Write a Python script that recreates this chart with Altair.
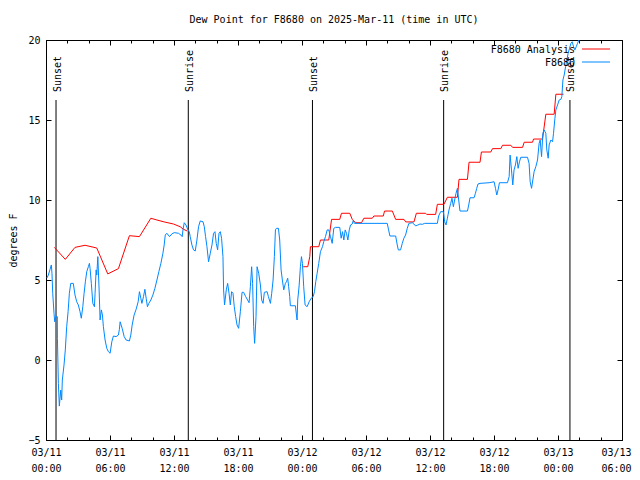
import altair as alt
import pandas as pd

TITLE = "Dew Point for F8680 on 2025-Mar-11 (time in UTC)"
FONT = "DejaVu Sans Mono"
RED = "#ff0000"
BLUE = "#0088ff"

# hours since 2025-03-11 00:00 UTC
red_hours_a = [0.78, 1.81, 2.72, 3.66, 4.76, 5.79, 6.79, 7.82, 8.76, 9.83, 10.40, 11.08, 11.95, 12.58, 12.89, 13.24]
red_vals_a = [7.04, 6.29, 7.04, 7.17, 7.00, 5.38, 5.71, 7.77, 7.71, 8.86, 8.75, 8.63, 8.50, 8.33, 8.17, 8.06]

red_hours_b = [24.11, 24.54, 24.73, 24.79, 25.57, 25.73, 26.51, 26.77, 27.54, 27.70, 28.48, 28.71, 29.02, 29.58,
               29.80, 30.59, 30.74, 31.62, 31.74, 32.47, 32.78, 33.56, 33.72, 34.50, 34.72, 35.59, 35.69, 36.53,
               36.69, 37.31, 37.63, 38.57, 38.72, 39.51, 39.66, 40.69, 40.82, 41.70, 41.86, 42.64, 42.80, 43.58,
               43.74, 44.68, 44.83, 45.61, 45.71, 46.55, 46.86, 47.64, 47.80, 48.52]
red_vals_b = [5.83, 5.83, 6.46, 7.08, 7.08, 7.50, 7.50, 8.79, 8.79, 9.17, 9.17, 8.79, 8.58, 8.58,
              8.86, 8.86, 9.00, 9.00, 9.31, 9.31, 8.79, 8.79, 8.63, 8.63, 9.17, 9.17, 9.10, 9.10,
              9.73, 9.73, 10.17, 10.17, 11.29, 11.29, 12.36, 12.36, 13.00, 13.00, 13.21, 13.21, 13.42, 13.42,
              13.29, 13.29, 13.61, 13.61, 13.81, 13.81, 15.36, 15.36, 16.61, 16.61]

blue_hours = [0.09, 0.22, 0.38, 0.50, 0.56, 0.63, 0.75, 0.82, 0.94, 1.06, 1.07, 1.16, 1.25, 1.38, 1.47, 1.53,
              1.69, 1.81, 1.94, 2.07, 2.19, 2.32, 2.56, 2.72, 2.88, 3.03, 3.19, 3.31, 3.45, 3.57, 3.69, 3.82,
              3.97, 4.07, 4.13, 4.25, 4.39, 4.54, 4.60, 4.70, 4.76, 4.86, 4.98, 5.07, 5.19, 5.29, 5.38, 5.54,
              5.70, 5.85, 6.01, 6.17, 6.32, 6.57, 6.79, 6.88, 6.95, 7.14, 7.33, 7.51, 7.82, 7.95, 8.08, 8.26,
              8.45, 8.64, 8.76, 8.89, 8.99, 9.14, 9.27, 9.39, 9.51, 9.64, 9.83, 10.02, 10.21, 10.40, 10.58,
              10.77, 10.96, 11.08, 11.18, 11.33, 11.58, 11.80, 12.02, 12.42, 12.65, 12.77, 12.84, 12.96, 13.12,
              13.31, 13.43, 13.52, 13.68, 13.83, 13.99, 14.15, 14.30, 14.46, 14.72, 14.84, 14.96, 15.09, 15.24,
              15.40, 15.56, 15.71, 15.84, 15.96, 16.09, 16.22, 16.34, 16.46, 16.59, 16.65, 16.74, 16.90, 17.03,
              17.16, 17.28, 17.40, 17.53, 17.65, 17.78, 17.91, 18.06, 18.22, 18.38, 18.53, 18.72, 18.90, 19.04,
              19.16, 19.28, 19.37, 19.47, 19.56, 19.69, 19.79, 19.94, 20.10, 20.22, 20.35, 20.47, 20.73, 20.85,
              21.04, 21.16, 21.29, 21.41, 21.51, 21.60, 21.79, 21.91, 22.04, 22.16, 22.29, 22.44, 22.54, 22.66,
              22.75, 22.85, 22.91, 23.38, 23.48, 23.54, 23.60, 23.73, 23.85, 23.95, 24.04, 24.16, 24.29, 24.48,
              24.67, 24.86, 25.05, 25.17, 25.29, 25.42, 25.57, 25.73, 25.92, 26.04, 26.20, 26.36, 26.51, 26.67,
              26.83, 26.98, 27.14, 27.54, 27.67, 27.80, 27.92, 28.05, 28.17, 28.30, 28.43, 28.55, 28.71, 28.80,
              28.92, 31.99, 32.12, 32.24, 32.78, 32.93, 33.03, 33.24, 33.40, 33.55, 33.71, 33.87, 34.02, 34.34,
              34.49, 34.65, 34.81, 35.06, 35.28, 35.50, 36.69, 36.81, 37.00, 37.25, 37.38, 37.50, 37.63, 37.78,
              37.94, 38.06, 38.19, 38.31, 38.44, 38.57, 38.69, 38.81, 39.51, 39.63, 39.75, 40.13, 40.26, 40.38,
              40.50, 40.69, 41.54, 42.01, 42.14, 42.26, 42.38, 42.51, 43.26, 43.42, 43.51, 43.64, 43.76, 43.88,
              44.01, 44.14, 44.26, 44.39, 44.51, 45.14, 45.29, 45.39, 45.52, 45.64, 45.76, 45.92, 46.08, 46.23,
              46.33, 46.46, 46.58, 46.70, 46.86, 46.95, 47.08, 47.17, 47.33, 47.49, 47.58, 47.71, 47.80, 47.96,
              48.11, 48.27, 48.36, 48.46, 48.58, 48.71, 48.83, 48.95, 49.08, 49.21, 49.33, 49.46, 49.58, 49.71,
              49.83, 49.96, 50.06]
blue_vals = [5.13, 5.31, 5.67, 5.94, 5.42, 4.17, 2.92, 2.39, 2.71, 2.71, 1.36, -1.46, -2.88, -1.88, -2.50, -1.25,
             -0.31, 0.63, 2.08, 3.02, 4.17, 4.79, 4.79, 4.06, 3.64, 3.44, 3.02, 2.61, 3.33, 4.17, 4.89, 5.52,
             5.83, 6.04, 5.73, 4.79, 3.54, 3.33, 4.17, 5.63, 5.31, 6.46, 4.38, 2.50, 3.13, 2.81, 2.08, 1.25,
             0.73, 0.52, 0.42, 1.14, 1.50, 1.46, 1.56, 1.92, 2.39, 1.98, 1.46, 1.25, 1.19, 1.56, 2.19, 2.81,
             3.17, 3.64, 4.27, 3.86, 3.54, 3.96, 4.42, 3.86, 3.33, 3.54, 3.75, 4.06, 4.48, 5.00, 5.52,
             6.04, 6.67, 7.19, 7.81, 7.92, 7.71, 7.88, 7.96, 7.92, 7.81, 7.71, 8.13, 8.58, 8.44,
             8.13, 8.02, 7.71, 7.19, 6.88, 6.81, 7.50, 8.33, 8.69, 8.64, 8.33, 7.71, 7.08, 6.14,
             6.67, 7.19, 7.92, 8.02, 7.29, 6.88, 7.92, 8.02, 7.61, 6.46, 4.38, 3.44, 4.38, 4.79,
             4.17, 3.44, 4.27, 4.17, 3.33, 2.71, 2.19, 1.98, 3.02, 4.23, 4.23, 3.96, 3.75, 3.58,
             4.58, 5.83, 4.79, 2.08, 1.04, 2.71, 5.83, 5.42, 4.69, 3.75, 3.54, 4.23, 4.27, 3.96,
             3.54, 4.17, 5.00, 6.46, 8.13, 8.23, 8.23, 7.50, 5.63, 5.00, 4.38, 4.79, 4.89, 5.11,
             4.58, 3.96, 3.39, 3.39, 2.81, 2.50, 3.75, 4.63, 5.83, 6.46, 6.04, 4.58, 3.44, 3.33,
             3.64, 3.86, 3.96, 4.27, 4.89, 5.42, 6.04, 6.77, 7.08, 7.39, 7.71, 8.13, 8.13, 7.71,
             7.29, 8.23, 8.29, 8.29, 7.61, 8.02, 7.50, 8.13, 7.92, 7.50, 8.13, 8.44, 8.50, 8.71,
             8.54, 8.54, 8.13, 7.75, 7.75, 7.19, 6.88, 6.88, 7.29, 7.61, 7.81, 8.23, 8.54, 8.58,
             8.50, 8.38, 8.42, 8.50, 8.48, 8.54, 8.54, 9.00, 9.27, 9.27, 8.63, 8.44, 8.86, 9.38,
             9.79, 10.11, 9.58, 10.00, 10.42, 10.73, 10.00, 9.31, 9.31, 9.69, 10.14, 10.14, 10.42, 10.73,
             11.00, 11.04, 11.08, 11.14, 10.73, 10.31, 10.63, 11.08, 11.08, 11.46, 12.81, 11.88, 10.94, 11.88,
             12.19, 12.71, 11.98, 12.39, 12.67, 12.67, 12.29, 11.14, 10.73, 11.25, 11.77, 12.08, 12.50, 13.54,
             13.75, 12.71, 14.17, 14.38, 14.17, 13.13, 12.61, 13.44, 13.75, 13.64, 14.17, 15.11, 15.63, 15.94,
             16.25, 16.29, 16.46, 17.50, 17.81, 18.33, 18.75, 19.17, 19.48, 19.79, 19.89, 19.58, 19.38, 19.58,
             19.79, 20.00, 20.25]

event_names = ["Sunset", "Sunrise", "Sunset", "Sunrise", "Sunset"]
event_hours = [0.94, 13.34, 24.98, 37.28, 49.12]

x_major = list(range(0, 55, 6))
x_minor = list(range(0, 55, 2))
y_ticks = [-5, 0, 5, 10, 15, 20]
series_names = ["F8680 Analysis", "F8680"]
series_colors = [RED, BLUE]

red_df = pd.DataFrame({
    "hour": red_hours_a + red_hours_b,
    "dewpt": red_vals_a + red_vals_b,
    "seg": [0] * len(red_hours_a) + [1] * len(red_hours_b),
})
blue_df = pd.DataFrame({"hour": blue_hours, "dewpt": blue_vals})
events = pd.DataFrame({"hour": event_hours, "name": event_names})

xscale = alt.Scale(domain=[0, 54], nice=False, zero=False)
yscale = alt.Scale(domain=[-5, 20], nice=False, zero=False)


def tick_axis(orient, values, size):
    return alt.Axis(orient=orient, values=values, tickSize=size, offset=-size, labels=False,
                    domain=False, grid=False, title=None, tickColor="black", tickWidth=1)


label_expr = ("['03/' + (11 + floor(datum.value / 24)), "
              "(datum.value % 24 < 10 ? '0' : '') + (datum.value % 24) + ':00']")

red = alt.Chart(red_df).mark_line(color=RED, strokeWidth=1, clip=True).encode(
    x=alt.X("hour:Q", scale=xscale, axis=alt.Axis(
        orient="bottom", values=x_major, ticks=False, domain=False, grid=False, title=None,
        labelExpr=label_expr, labelFont=FONT, labelFontSize=10, labelColor="black",
        labelPadding=7, labelLineHeight=16, labelFlush=False, labelOverlap=False,
        labelBaseline="top", labelAlign="center",
        labelOffset={"condition": {"test": "datum.value == 54", "value": -6}, "value": 0})),
    y=alt.Y("dewpt:Q", scale=yscale, axis=alt.Axis(
        orient="left", values=y_ticks, ticks=False, domain=False, grid=False, format="d",
        labelFont=FONT, labelFontSize=10, labelColor="black", labelPadding=6,
        title="degrees F", titleFont=FONT, titleFontSize=10, titleFontWeight="normal",
        titleColor="black", titleX=-33, titleY=200, titleAngle=270, titleAlign="center",
        titleBaseline="middle")),
    detail="seg:N",
)

blue = alt.Chart(blue_df).mark_line(color=BLUE, strokeWidth=1, clip=True).encode(
    x=alt.X("hour:Q", scale=xscale, axis=tick_axis("bottom", x_major, 5)),
    y=alt.Y("dewpt:Q", scale=yscale, axis=tick_axis("left", y_ticks, 5)),
)

rules = alt.Chart(events).mark_rule(color="black", strokeWidth=1).encode(
    x=alt.X("hour:Q", scale=xscale, axis=tick_axis("top", x_major, 5)),
    y=alt.Y(datum=16.25, scale=yscale, axis=tick_axis("right", y_ticks, 5)),
    y2=alt.Y2(datum=-5),
)

ev_labels = alt.Chart(events).mark_text(angle=270, align="left", baseline="middle", font=FONT,
                                        fontSize=10, color="black", dy=1.5).encode(
    x=alt.X("hour:Q", scale=xscale, axis=tick_axis("bottom", x_minor, 3)),
    y=alt.Y(datum=16.75, scale=yscale, axis=None),
    text="name:N",
)

hidden = alt.Chart(events).mark_point(opacity=0).encode(
    x=alt.X("hour:Q", scale=xscale, axis=tick_axis("top", x_minor, 3)),
    y=alt.Y(datum=0, scale=yscale, axis=None),
)

legend_layers = []
for i, (nm, col) in enumerate(zip(series_names, series_colors)):
    ly = 9 + 13 * i
    legend_layers.append(
        alt.Chart(pd.DataFrame({"name": [nm]})).mark_text(
            align="right", baseline="middle", font=FONT, fontSize=10, color="black", dy=1).encode(
            x=alt.value(529), y=alt.value(ly), text="name:N"))
    legend_layers.append(
        alt.Chart(pd.DataFrame({"name": [nm]})).mark_rule(color=col, strokeWidth=1).encode(
            x=alt.value(536), x2=alt.value(564), y=alt.value(ly)))

chart = alt.layer(rules, red, blue, ev_labels, hidden, *legend_layers).resolve_axis(
    x="independent", y="independent"
).properties(
    width=576, height=400,
    title=alt.TitleParams(TITLE, font=FONT, fontSize=10, fontWeight="normal", anchor="middle",
                          frame="group", offset=10, color="black"),
    autosize="none",
    padding={"left": 38, "top": 32, "right": 10, "bottom": 36},
).configure_view(stroke="black", strokeWidth=1)

chart.save("out.html", embed_options={"renderer": "svg", "actions": False})
